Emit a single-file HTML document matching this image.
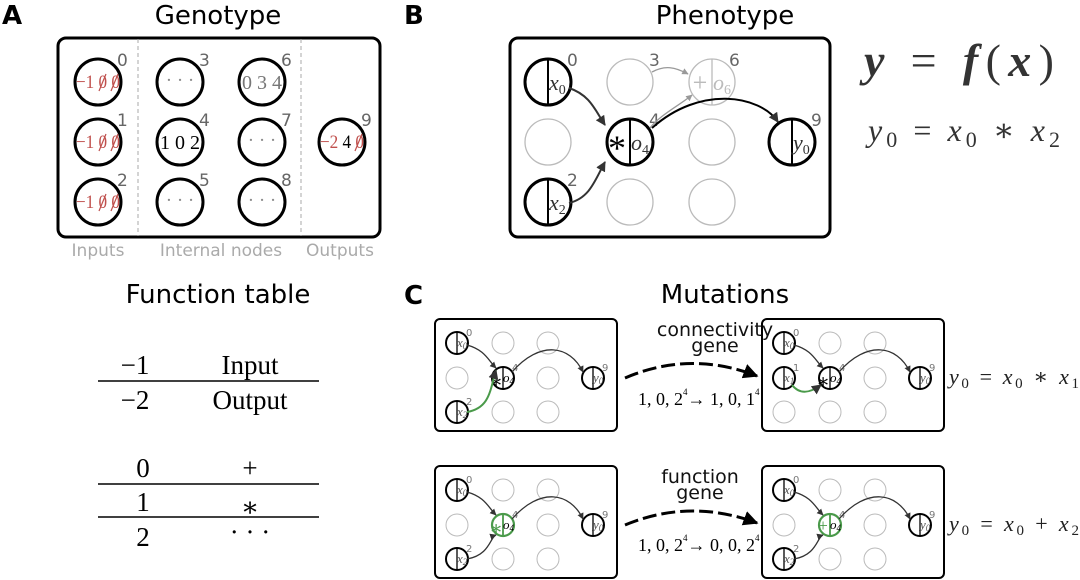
<!DOCTYPE html>
<html><head><meta charset="utf-8"><style>
html,body{margin:0;padding:0;background:#fff;width:1080px;height:580px;overflow:hidden}
svg{display:block}
.s{font-family:"DejaVu Sans","Liberation Sans",sans-serif}
.m{font-family:"Liberation Serif","DejaVu Serif",serif}
.i{font-style:italic}
</style></head><body>
<svg width="1080" height="580" viewBox="0 0 1080 580" xmlns="http://www.w3.org/2000/svg">
<defs>
<marker id="ah" viewBox="0 0 10 10" refX="9" refY="5" markerWidth="5" markerHeight="5" orient="auto"><path d="M0,0L10,5L0,10z" fill="#333"/></marker>
<marker id="ahg" viewBox="0 0 10 10" refX="9" refY="5" markerWidth="5" markerHeight="5" orient="auto"><path d="M0,0L10,5L0,10z" fill="#999"/></marker>
<marker id="ahb" viewBox="0 0 10 10" refX="9" refY="5" markerWidth="5" markerHeight="5" orient="auto"><path d="M0,0L10,5L0,10z" fill="#000"/></marker>
</defs>

<text x="2" y="24" class="s" font-size="26" font-weight="bold">A</text>
<text x="404" y="24" class="s" font-size="26" font-weight="bold">B</text>
<text x="404" y="304" class="s" font-size="26" font-weight="bold">C</text>
<text x="218" y="24" class="s" font-size="26" text-anchor="middle">Genotype</text>
<text x="725" y="24" class="s" font-size="26" text-anchor="middle">Phenotype</text>
<text x="218" y="303" class="s" font-size="26" text-anchor="middle">Function table</text>
<text x="725" y="303" class="s" font-size="26" text-anchor="middle">Mutations</text>

<!-- Panel A -->
<rect x="58" y="38" width="322" height="199" rx="8" fill="none" stroke="#000" stroke-width="3"/>
<line x1="138" y1="39" x2="138" y2="236" stroke="#aaa" stroke-dasharray="4,3"/>
<line x1="301" y1="39" x2="301" y2="236" stroke="#aaa" stroke-dasharray="4,3"/>
<g fill="none" stroke="#000" stroke-width="3">
<circle cx="98" cy="82" r="23"/><circle cx="98" cy="142" r="23"/><circle cx="98" cy="202" r="23"/>
<circle cx="180" cy="82" r="23"/><circle cx="180" cy="142" r="23"/><circle cx="180" cy="202" r="23"/>
<circle cx="262" cy="82" r="23"/><circle cx="262" cy="142" r="23"/><circle cx="262" cy="202" r="23"/>
<circle cx="342" cy="142" r="23"/>
</g>
<g class="s" font-size="17" fill="#666">
<text x="117" y="66">0</text><text x="117" y="126">1</text><text x="117" y="186">2</text>
<text x="199" y="66">3</text><text x="199" y="126">4</text><text x="199" y="186">5</text>
<text x="281" y="66">6</text><text x="281" y="126">7</text><text x="281" y="186">8</text>
<text x="361" y="126">9</text>
</g>
<g class="m" font-size="19" fill="#c0504d">
<text x="76" y="88" textLength="44" lengthAdjust="spacingAndGlyphs">−1 0 0</text>
<text x="76" y="148" textLength="44" lengthAdjust="spacingAndGlyphs">−1 0 0</text>
<text x="76" y="208" textLength="44" lengthAdjust="spacingAndGlyphs">−1 0 0</text>
</g>
<g stroke="#c0504d" stroke-width="1.2">
<line x1="99" y1="91" x2="106" y2="74"/><line x1="111" y1="91" x2="118" y2="74"/>
<line x1="99" y1="151" x2="106" y2="134"/><line x1="111" y1="151" x2="118" y2="134"/>
<line x1="99" y1="211" x2="106" y2="194"/><line x1="111" y1="211" x2="118" y2="194"/>
</g>
<text x="320" y="148" class="m" font-size="19" textLength="44" lengthAdjust="spacingAndGlyphs"><tspan fill="#c0504d">−2</tspan> 4 <tspan fill="#c0504d">0</tspan></text>
<line x1="355" y1="151" x2="362" y2="134" stroke="#c0504d" stroke-width="1.2"/>
<text x="180" y="149" class="m" font-size="20" text-anchor="middle">1 0 2</text>
<text x="262" y="89" class="m" font-size="20" text-anchor="middle" fill="#777">0 3 4</text>
<g class="m" font-size="19" text-anchor="middle" fill="#888">
<text x="180" y="86">· · ·</text><text x="180" y="206">· · ·</text><text x="262" y="146">· · ·</text><text x="262" y="206">· · ·</text>
</g>
<g class="s" font-size="17" fill="#aaa" text-anchor="middle">
<text x="98" y="256">Inputs</text><text x="221" y="256">Internal nodes</text><text x="340" y="256">Outputs</text>
</g>

<!-- Panel B -->
<rect x="510" y="38" width="320" height="199" rx="8" fill="none" stroke="#000" stroke-width="3"/>
<g fill="none" stroke="#bbb" stroke-width="1.3">
<circle cx="630" cy="82" r="23"/><circle cx="548" cy="142" r="23"/><circle cx="712" cy="142" r="23"/>
<circle cx="630" cy="202" r="23"/><circle cx="712" cy="202" r="23"/>
<circle cx="712" cy="82" r="23"/><line x1="712" y1="59" x2="712" y2="105"/>
</g>
<g fill="none" stroke="#000" stroke-width="3">
<circle cx="548" cy="82" r="23"/><circle cx="548" cy="202" r="23"/><circle cx="630" cy="142" r="23"/><circle cx="792" cy="142" r="23"/>
</g>
<g stroke="#000" stroke-width="2">
<line x1="548" y1="59" x2="548" y2="105"/><line x1="548" y1="179" x2="548" y2="225"/><line x1="630" y1="119" x2="630" y2="165"/><line x1="792" y1="119" x2="792" y2="165"/>
</g>
<g class="s" font-size="17" fill="#666">
<text x="567" y="66">0</text><text x="567" y="186">2</text><text x="649" y="66">3</text><text x="649" y="126">4</text><text x="729" y="66">6</text><text x="811" y="126">9</text>
</g>
<g class="m i" font-size="22" fill="#333">
<text x="549" y="90">x<tspan font-size="14" font-style="normal" dy="4">0</tspan></text>
<text x="549" y="210">x<tspan font-size="14" font-style="normal" dy="4">2</tspan></text>
<text x="631" y="150">o<tspan font-size="14" font-style="normal" dy="4">4</tspan></text>
<text x="793" y="150">y<tspan font-size="14" font-style="normal" dy="4">0</tspan></text>
<text x="713" y="90" fill="#bbb">o<tspan font-size="14" font-style="normal" dy="4">6</tspan></text>
</g>
<text x="617" y="160" class="m" font-size="36" text-anchor="middle">*</text>
<text x="700" y="91" class="m" font-size="26" text-anchor="middle" fill="#bbb">+</text>
<g fill="none" stroke-width="2">
<path d="M569,88 C590,95 595,110 605,125" stroke="#333" marker-end="url(#ah)"/>
<path d="M569,203 C590,198 595,180 605,162" stroke="#333" marker-end="url(#ah)"/>
<path d="M652,128 C700,85 760,95 778,122" stroke="#000" marker-end="url(#ah)"/>
</g>
<g fill="none" stroke="#999" stroke-width="1.3">
<path d="M652,72 C665,65 675,67 688,74" marker-end="url(#ahg)"/>
<path d="M650,128 C660,115 680,105 692,95" marker-end="url(#ahg)"/>
</g>

<!-- Equations -->
<text x="864" y="76" class="m i" font-size="46" font-weight="bold" fill="#333" textLength="190" lengthAdjust="spacing">y <tspan font-style="normal" font-weight="normal">= </tspan>f<tspan font-style="normal" font-weight="normal">(</tspan>x<tspan font-style="normal" font-weight="normal">)</tspan></text>
<text x="868" y="141" class="m i" font-size="32" fill="#333" textLength="192" lengthAdjust="spacing">y<tspan font-style="normal" font-size="22" dy="6">0</tspan><tspan font-style="normal" dy="-6"> = </tspan>x<tspan font-style="normal" font-size="22" dy="6">0</tspan><tspan font-style="normal" dy="-6"> ∗ </tspan>x<tspan font-style="normal" font-size="22" dy="6">2</tspan></text>

<!-- Function table -->
<g stroke="#000" stroke-width="1.5"><line x1="98" y1="381" x2="319" y2="381"/><line x1="98" y1="484" x2="319" y2="484"/><line x1="98" y1="517" x2="319" y2="517"/></g>
<g class="m" font-size="27" text-anchor="middle">
<text x="135" y="374">−1</text><text x="250" y="374">Input</text>
<text x="135" y="409">−2</text><text x="250" y="409">Output</text>
<text x="143" y="477">0</text><text x="250" y="477">+</text>
<text x="143" y="511">1</text><text x="250" y="516">∗</text>
<text x="143" y="546">2</text><text x="250" y="541">· · ·</text>
</g>

<!-- Panel C top-left -->
<g transform="translate(435,319)">
<rect x="0" y="0" width="182" height="112" rx="5" fill="none" stroke="#000" stroke-width="2"/>
<g fill="none" stroke="#bbb" stroke-width="1"><circle cx="68" cy="24" r="11"/><circle cx="113" cy="24" r="11"/><circle cx="22" cy="59" r="11"/><circle cx="113" cy="59" r="11"/><circle cx="68" cy="93" r="11"/><circle cx="113" cy="93" r="11"/></g>
<g fill="none" stroke="#000" stroke-width="2"><circle cx="22" cy="24" r="11"/><circle cx="22" cy="93" r="11"/><circle cx="68" cy="59" r="11"/><circle cx="158" cy="59" r="11"/></g>
<g stroke="#000" stroke-width="1.3"><line x1="22" y1="13" x2="22" y2="35"/><line x1="22" y1="82" x2="22" y2="104"/><line x1="68" y1="48" x2="68" y2="70"/><line x1="158" y1="48" x2="158" y2="70"/></g>
</g>
<g class="s" font-size="10" fill="#777"><text x="466" y="336">0</text><text x="466" y="405">2</text><text x="512" y="371">4</text><text x="602" y="371">9</text></g>
<g class="m i" font-size="13" fill="#555"><text x="457" y="347">x<tspan font-size="9" dy="2">0</tspan></text><text x="457" y="416">x<tspan font-size="9" dy="2">2</tspan></text><text x="503" y="382" fill="#000">o<tspan font-size="9" dy="2">4</tspan></text><text x="593" y="382">y<tspan font-size="9" dy="2">0</tspan></text></g>
<text x="496" y="388" class="m" font-size="20" text-anchor="middle">∗</text>
<g fill="none" stroke-width="1.3">
<path d="M467,345 C485,350 488,360 496,368" stroke="#333" marker-end="url(#ah)"/>
<path d="M467,412 C490,408 490,390 496,370" stroke="#4a9a4a" stroke-width="2" marker-end="url(#ah)"/>
<path d="M512,372 C540,340 570,345 583,372" stroke="#333" marker-end="url(#ah)"/>
</g>

<!-- top-right -->
<g transform="translate(762,319)">
<rect x="0" y="0" width="182" height="112" rx="5" fill="none" stroke="#000" stroke-width="2"/>
<g fill="none" stroke="#bbb" stroke-width="1"><circle cx="68" cy="24" r="11"/><circle cx="113" cy="24" r="11"/><circle cx="22" cy="93" r="11"/><circle cx="113" cy="59" r="11"/><circle cx="68" cy="93" r="11"/><circle cx="113" cy="93" r="11"/></g>
<g fill="none" stroke="#000" stroke-width="2"><circle cx="22" cy="24" r="11"/><circle cx="22" cy="59" r="11"/><circle cx="68" cy="59" r="11"/><circle cx="158" cy="59" r="11"/></g>
<g stroke="#000" stroke-width="1.3"><line x1="22" y1="13" x2="22" y2="35"/><line x1="22" y1="48" x2="22" y2="70"/><line x1="68" y1="48" x2="68" y2="70"/><line x1="158" y1="48" x2="158" y2="70"/></g>
</g>
<g class="s" font-size="10" fill="#777"><text x="793" y="336">0</text><text x="793" y="371">1</text><text x="839" y="371">4</text><text x="929" y="371">9</text></g>
<g class="m i" font-size="13" fill="#555"><text x="784" y="347">x<tspan font-size="9" dy="2">0</tspan></text><text x="784" y="382">x<tspan font-size="9" dy="2">1</tspan></text><text x="830" y="382" fill="#000">o<tspan font-size="9" dy="2">4</tspan></text><text x="920" y="382">y<tspan font-size="9" dy="2">0</tspan></text></g>
<text x="823" y="388" class="m" font-size="20" text-anchor="middle">∗</text>
<g fill="none" stroke-width="1.3">
<path d="M794,345 C812,350 815,360 823,368" stroke="#333" marker-end="url(#ah)"/>
<path d="M792,385 C800,395 810,393 821,385" stroke="#4a9a4a" stroke-width="2" marker-end="url(#ah)"/>
<path d="M839,372 C867,340 897,345 910,372" stroke="#333" marker-end="url(#ah)"/>
</g>

<!-- bottom-left -->
<g transform="translate(435,466)">
<rect x="0" y="0" width="182" height="112" rx="5" fill="none" stroke="#000" stroke-width="2"/>
<g fill="none" stroke="#bbb" stroke-width="1"><circle cx="68" cy="24" r="11"/><circle cx="113" cy="24" r="11"/><circle cx="22" cy="59" r="11"/><circle cx="113" cy="59" r="11"/><circle cx="68" cy="93" r="11"/><circle cx="113" cy="93" r="11"/></g>
<g fill="none" stroke="#000" stroke-width="2"><circle cx="22" cy="24" r="11"/><circle cx="22" cy="93" r="11"/><circle cx="158" cy="59" r="11"/></g>
<circle cx="68" cy="59" r="11" fill="none" stroke="#4a9a4a" stroke-width="2.2"/>
<g stroke="#000" stroke-width="1.3"><line x1="22" y1="13" x2="22" y2="35"/><line x1="22" y1="82" x2="22" y2="104"/><line x1="158" y1="48" x2="158" y2="70"/></g>
<line x1="68" y1="48" x2="68" y2="70" stroke="#4a9a4a" stroke-width="1.8"/>
</g>
<g class="s" font-size="10" fill="#777"><text x="466" y="483">0</text><text x="466" y="552">2</text><text x="512" y="518">4</text><text x="602" y="518">9</text></g>
<g class="m i" font-size="13" fill="#555"><text x="457" y="494">x<tspan font-size="9" dy="2">0</tspan></text><text x="457" y="563">x<tspan font-size="9" dy="2">2</tspan></text><text x="503" y="529" fill="#000">o<tspan font-size="9" dy="2">4</tspan></text><text x="593" y="529">y<tspan font-size="9" dy="2">0</tspan></text></g>
<text x="496" y="535" class="m" font-size="20" text-anchor="middle" fill="#4a9a4a">∗</text>
<g fill="none" stroke-width="1.3" stroke="#333">
<path d="M467,492 C485,497 488,507 496,515" marker-end="url(#ah)"/>
<path d="M467,559 C490,555 490,537 496,535" marker-end="url(#ah)"/>
<path d="M512,519 C540,487 570,492 583,519" marker-end="url(#ah)"/>
</g>

<!-- bottom-right -->
<g transform="translate(762,466)">
<rect x="0" y="0" width="182" height="112" rx="5" fill="none" stroke="#000" stroke-width="2"/>
<g fill="none" stroke="#bbb" stroke-width="1"><circle cx="68" cy="24" r="11"/><circle cx="113" cy="24" r="11"/><circle cx="22" cy="59" r="11"/><circle cx="113" cy="59" r="11"/><circle cx="68" cy="93" r="11"/><circle cx="113" cy="93" r="11"/></g>
<g fill="none" stroke="#000" stroke-width="2"><circle cx="22" cy="24" r="11"/><circle cx="22" cy="93" r="11"/><circle cx="158" cy="59" r="11"/></g>
<circle cx="68" cy="59" r="11" fill="none" stroke="#4a9a4a" stroke-width="2.2"/>
<g stroke="#000" stroke-width="1.3"><line x1="22" y1="13" x2="22" y2="35"/><line x1="22" y1="82" x2="22" y2="104"/><line x1="158" y1="48" x2="158" y2="70"/></g>
<line x1="68" y1="48" x2="68" y2="70" stroke="#4a9a4a" stroke-width="1.8"/>
</g>
<g class="s" font-size="10" fill="#777"><text x="793" y="483">0</text><text x="793" y="552">2</text><text x="839" y="518">4</text><text x="929" y="518">9</text></g>
<g class="m i" font-size="13" fill="#555"><text x="784" y="494">x<tspan font-size="9" dy="2">0</tspan></text><text x="784" y="563">x<tspan font-size="9" dy="2">2</tspan></text><text x="830" y="529" fill="#000">o<tspan font-size="9" dy="2">4</tspan></text><text x="920" y="529">y<tspan font-size="9" dy="2">0</tspan></text></g>
<text x="823" y="531" class="m" font-size="17" text-anchor="middle" fill="#4a9a4a">+</text>
<g fill="none" stroke-width="1.3" stroke="#333">
<path d="M794,492 C812,497 815,507 823,515" marker-end="url(#ah)"/>
<path d="M794,559 C817,555 817,537 823,535" marker-end="url(#ah)"/>
<path d="M839,519 C867,487 897,492 910,519" marker-end="url(#ah)"/>
</g>

<!-- mutation arrows -->
<g class="s" font-size="19" text-anchor="middle" fill="#111">
<text x="715" y="336">connectivity</text><text x="715" y="352">gene</text>
<text x="700" y="483">function</text><text x="700" y="499">gene</text>
</g>
<path d="M625,378 Q690,350 757,376" fill="none" stroke="#000" stroke-width="3" stroke-dasharray="14,5" marker-end="url(#ahb)"/>
<path d="M625,525 Q690,498 757,523" fill="none" stroke="#000" stroke-width="3" stroke-dasharray="14,5" marker-end="url(#ahb)"/>
<text x="638" y="405" class="m" font-size="18">1, 0, 2<tspan font-size="9" dy="-10">4</tspan><tspan dy="10">→ 1, 0, 1</tspan><tspan font-size="9" dy="-10">4</tspan></text>
<text x="638" y="551" class="m" font-size="18">1, 0, 2<tspan font-size="9" dy="-10">4</tspan><tspan dy="10">→ 0, 0, 2</tspan><tspan font-size="9" dy="-10">4</tspan></text>

<text x="949" y="384" class="m i" font-size="22" fill="#222" textLength="130" lengthAdjust="spacing">y<tspan font-style="normal" font-size="15" dy="4">0</tspan><tspan font-style="normal" dy="-4"> = </tspan>x<tspan font-style="normal" font-size="15" dy="4">0</tspan><tspan font-style="normal" dy="-4"> ∗ </tspan>x<tspan font-style="normal" font-size="15" dy="4">1</tspan></text>
<text x="949" y="531" class="m i" font-size="22" fill="#222" textLength="130" lengthAdjust="spacing">y<tspan font-style="normal" font-size="15" dy="4">0</tspan><tspan font-style="normal" dy="-4"> = </tspan>x<tspan font-style="normal" font-size="15" dy="4">0</tspan><tspan font-style="normal" dy="-4"> + </tspan>x<tspan font-style="normal" font-size="15" dy="4">2</tspan></text>
</svg>
</body></html>
